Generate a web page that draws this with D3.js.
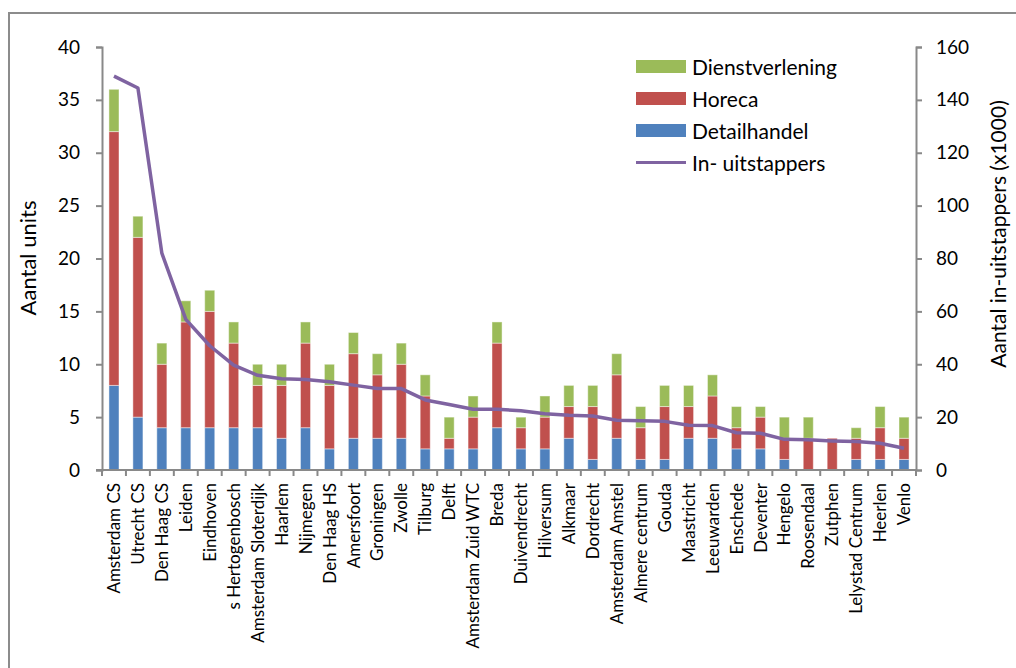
<!DOCTYPE html>
<html>
<head>
<meta charset="utf-8">
<script src="https://cdn.jsdelivr.net/npm/d3@7"></script>
<style>
  html, body { margin: 0; padding: 0; background: #fff; }
  svg { display: block; font-family: Lato, "Open Sans", sans-serif; }
</style>
</head>
<body>
<svg id="chart" width="1016" height="668"></svg>
<script>
// Stations, ordered by passenger volume
const stations = [
  "Amsterdam CS", "Utrecht CS", "Den Haag CS", "Leiden", "Eindhoven",
  "s Hertogenbosch", "Amsterdam Sloterdijk", "Haarlem", "Nijmegen", "Den Haag HS",
  "Amersfoort", "Groningen", "Zwolle", "Tilburg", "Delft",
  "Amsterdam Zuid WTC", "Breda", "Duivendrecht", "Hilversum", "Alkmaar",
  "Dordrecht", "Amsterdam Amstel", "Almere centrum", "Gouda", "Maastricht",
  "Leeuwarden", "Enschede", "Deventer", "Hengelo", "Roosendaal",
  "Zutphen", "Lelystad Centrum", "Heerlen", "Venlo"
];

// Number of units per sector
const detailhandel = [8, 5, 4, 4, 4, 4, 4, 3, 4, 2, 3, 3, 3, 2, 2, 2, 4, 2, 2, 3, 1, 3, 1, 1, 3, 3, 2, 2, 1, 0, 0, 1, 1, 1];
const horeca       = [24, 17, 6, 10, 11, 8, 4, 5, 8, 6, 8, 6, 7, 5, 1, 3, 8, 2, 3, 3, 5, 6, 3, 5, 3, 4, 2, 3, 2, 3, 3, 2, 3, 2];
const dienst       = [4, 2, 2, 2, 2, 2, 2, 2, 2, 2, 2, 2, 2, 2, 2, 2, 2, 1, 2, 2, 2, 2, 2, 2, 2, 2, 2, 1, 2, 2, 0, 1, 2, 2];

// Boarding + alighting passengers per day (x1000)
const passengers = [149, 144.5, 82, 57, 47, 39.7, 35.8, 34.5, 34.2, 33.4, 32.1, 30.8, 30.8, 26.5, 24.8,
  23, 23, 22.4, 21.3, 20.7, 20.4, 18.8, 18.6, 18.4, 16.9, 16.8, 14.1, 13.9, 11.6, 11.4, 11, 10.8, 10.1, 8.2];

const leftTicks = [0, 5, 10, 15, 20, 25, 30, 35, 40];
const rightTicks = [0, 20, 40, 60, 80, 100, 120, 140, 160];

const series = [
  { key: "Detailhandel", values: detailhandel, color: "#4F81BD" },
  { key: "Horeca", values: horeca, color: "#C0504D" },
  { key: "Dienstverlening", values: dienst, color: "#9BBB59" }
];
const lineColor = "#7F63A1";
const axisColor = "#898989";

const svg = d3.select("#chart");
const m = { left: 102, right: 916, top: 47, bottom: 470 };

// Frame around the chart area
svg.append("path")
  .attr("d", "M9,668 V13 H1016")
  .attr("fill", "none")
  .attr("stroke", "#8c8c8c")
  .attr("stroke-width", 2);

const x = d3.scaleBand().domain(stations).range([m.left, m.right]).paddingInner(0.58).paddingOuter(0.29);
const xBand = d3.scaleBand().domain(stations).range([m.left, m.right]);
const yL = d3.scaleLinear().domain([0, 40]).range([m.bottom, m.top]);
const yR = d3.scaleLinear().domain([0, 160]).range([m.bottom, m.top]);

// Stacked table built from the named arrays
const table = stations.map((s, i) => {
  const row = { station: s };
  series.forEach(se => row[se.key] = se.values[i]);
  return row;
});
const stack = d3.stack().keys(series.map(s => s.key))(table);

const g = svg.append("g");
stack.forEach((layer, li) => {
  g.append("g")
    .attr("fill", series[li].color)
    .selectAll("rect")
    .data(layer)
    .join("rect")
    .filter(d => d[1] - d[0] > 0)
    .attr("x", d => x(d.data.station))
    .attr("width", x.bandwidth())
    .attr("y", d => yL(d[1]))
    .attr("height", d => yL(d[0]) - yL(d[1]))
    .attr("stroke", "rgba(255,255,255,0.45)")
    .attr("stroke-width", 1);
});

// Passenger line on the secondary axis
const line = d3.line()
  .x((d, i) => xBand(stations[i]) + xBand.bandwidth() / 2)
  .y(d => yR(d));
svg.append("path")
  .datum(passengers)
  .attr("d", line)
  .attr("fill", "none")
  .attr("stroke", lineColor)
  .attr("stroke-width", 3.5)
  .attr("stroke-linejoin", "round");

// Axes
function styleAxis(sel, fontSize) {
  sel.select(".domain").attr("stroke", axisColor).attr("stroke-width", 2);
  sel.selectAll(".tick line").attr("stroke", axisColor).attr("stroke-width", 2);
  sel.selectAll(".tick text").attr("fill", "#000").style("font-size", fontSize + "px")
    .style("font-family", "Lato, 'Open Sans', sans-serif");
}

const axL = svg.append("g").attr("transform", `translate(${m.left},0)`)
  .call(d3.axisLeft(yL).tickValues(leftTicks).tickSize(6).tickSizeOuter(6).tickPadding(16));
styleAxis(axL, 19);

const axR = svg.append("g").attr("transform", `translate(${m.right},0)`)
  .call(d3.axisRight(yR).tickValues(rightTicks).tickSize(6).tickSizeOuter(6).tickPadding(14));
styleAxis(axR, 19);

// Category axis: ticks sit on band boundaries
const axB = svg.append("g").attr("transform", `translate(0,${m.bottom})`);
axB.append("line")
  .attr("x1", m.left - 6).attr("x2", m.right)
  .attr("stroke", axisColor).attr("stroke-width", 2);
axB.selectAll("line.tk")
  .data(stations.concat(["__end"]))
  .join("line")
  .attr("class", "tk")
  .attr("x1", (d, i) => m.left + i * xBand.bandwidth())
  .attr("x2", (d, i) => m.left + i * xBand.bandwidth())
  .attr("y1", 0).attr("y2", 6)
  .attr("stroke", axisColor).attr("stroke-width", 2);
axB.selectAll("text")
  .data(stations)
  .join("text")
  .attr("transform", d => `translate(${xBand(d) + xBand.bandwidth() / 2},13) rotate(-90)`)
  .attr("dy", "0.36em")
  .attr("text-anchor", "end")
  .style("font-size", "17px")
  .text(d => d);

// Axis titles
svg.append("text")
  .attr("transform", `translate(36,258) rotate(-90)`)
  .attr("text-anchor", "middle")
  .style("font-size", "22px")
  .text("Aantal units");
svg.append("text")
  .attr("transform", `translate(1006,234) rotate(-90)`)
  .attr("text-anchor", "middle")
  .style("font-size", "21px")
  .text("Aantal in-uitstappers (x1000)");

// Legend
const legendItems = [
  { key: "Dienstverlening", color: "#9BBB59", type: "rect" },
  { key: "Horeca", color: "#C0504D", type: "rect" },
  { key: "Detailhandel", color: "#4F81BD", type: "rect" },
  { key: "In- uitstappers", color: lineColor, type: "line" }
];
const lg = svg.append("g").attr("transform", "translate(636,60)");
legendItems.forEach((it, i) => {
  const row = lg.append("g").attr("transform", `translate(0,${i * 32})`);
  if (it.type === "rect") {
    row.append("rect").attr("x", 0).attr("y", 0).attr("width", 50).attr("height", 13).attr("fill", it.color);
  } else {
    row.append("line").attr("x1", 0).attr("x2", 50).attr("y1", 6.5).attr("y2", 6.5)
      .attr("stroke", it.color).attr("stroke-width", 3);
  }
  row.append("text").attr("x", 56).attr("y", 7).attr("dy", "0.36em")
    .style("font-size", "21px").text(it.key);
});
</script>
</body>
</html>
